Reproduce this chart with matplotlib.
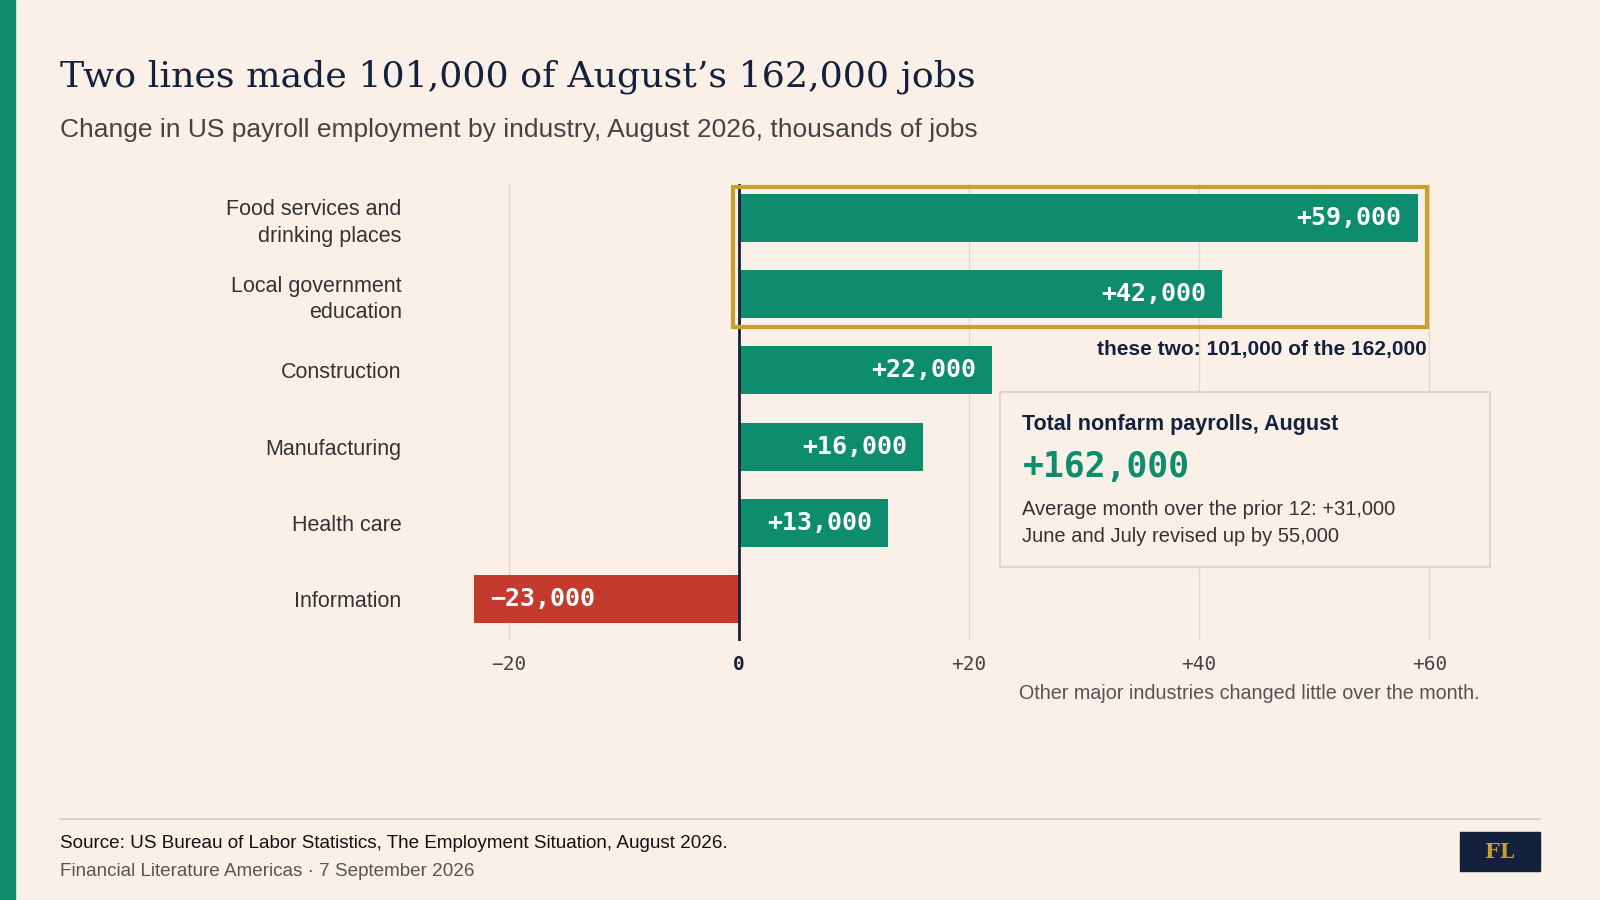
import matplotlib.pyplot as plt
from matplotlib.patches import Rectangle

industries = ["Food services and\ndrinking places", "Local government\neducation",
              "Construction", "Manufacturing", "Health care", "Information"]
changes = [59, 42, 22, 16, 13, -23]
value_labels = ["+59,000", "+42,000", "+22,000", "+16,000", "+13,000", "\u221223,000"]
ticks = [-20, 0, 20, 40, 60]
tick_labels = ["\u221220", "0", "+20", "+40", "+60"]

BG = "#FAF0E8"
GREEN = "#0E8C6E"
RED = "#C43B2E"
GOLD = "#C9A02B"
NAVY = "#14213D"
W, H = 1568, 882

fig = plt.figure(figsize=(16, 9), dpi=100, facecolor=BG)
fig.patches.append(Rectangle((0, 0), 15 / W, 1, transform=fig.transFigure, color=GREEN))

def fx(px): return px / W
def fy(py): return 1 - py / H

fig.text(fx(59), fy(75), "Two lines made 101,000 of August\u2019s 162,000 jobs",
         family="DejaVu Serif", fontsize=26.2, color=NAVY, va="center")
fig.text(fx(59), fy(127), "Change in US payroll employment by industry, August 2026, thousands of jobs",
         family="Liberation Sans", fontsize=19, color="#444444", va="center")

ax = fig.add_axes([fx(459), fy(628), fx(1412 - 459), fy(180) - fy(628)])
ax.set_facecolor(BG)
y = list(range(len(industries)))
colors = [GREEN if v > 0 else RED for v in changes]
ax.barh(y, changes, height=0.63, color=colors, zorder=2)
ax.set_ylim(len(industries) - 0.45, -0.45)
ax.set_xlim(-23.5, 61)
for i, (v, lab) in enumerate(zip(changes, value_labels)):
    if v > 0:
        ax.text(v - 1.4, i, lab, ha="right", va="center", color="white",
                family="DejaVu Sans Mono", fontweight="bold", fontsize=18, zorder=3)
    else:
        ax.text(v + 1.4, i, lab, ha="left", va="center", color="white",
                family="DejaVu Sans Mono", fontweight="bold", fontsize=18, zorder=3)
ax.set_yticks(y)
ax.set_yticklabels(industries, family="Liberation Sans", fontsize=15.5, color="#333333")
ax.set_xticks(ticks)
ax.set_xticklabels(tick_labels, family="DejaVu Sans Mono", fontsize=14, color="#444444")
ax.get_xticklabels()[1].set_fontweight("bold")
ax.get_xticklabels()[1].set_color(NAVY)
ax.tick_params(length=0, pad=10)
ax.tick_params(axis="y", pad=48)
for lab in ax.get_yticklabels():
    lab.set_linespacing(1.35)
ax.grid(axis="x", color="#E2D8CE", lw=1, zorder=0)
for s in ax.spines.values():
    s.set_visible(False)
ax.axvline(0, color=NAVY, lw=2, zorder=4)

ax.add_patch(Rectangle((-0.5, -0.41), 60.3, 1.84, fill=False, ec=GOLD, lw=3,
                       zorder=5, clip_on=False))
ax.text(59.8, 1.72, "these two: 101,000 of the 162,000", ha="right", va="center",
        family="Liberation Sans", fontweight="bold", fontsize=15, color=NAVY)

fig.patches.append(Rectangle((fx(980), fy(556)), fx(480), fy(384) - fy(556),
                             transform=fig.transFigure, fc=BG, ec="#E0D6CC", lw=1.5, zorder=6))
fig.text(fx(1002), fy(416), "Total nonfarm payrolls, August", family="Liberation Sans",
         fontweight="bold", fontsize=15.5, color=NAVY, va="center", zorder=7)
fig.text(fx(1002), fy(458), "+162,000", family="DejaVu Sans Mono", fontweight="bold",
         fontsize=25, color=GREEN, va="center", zorder=7)
fig.text(fx(1002), fy(499), "Average month over the prior 12: +31,000", family="Liberation Sans",
         fontsize=14.5, color="#333333", va="center", zorder=7)
fig.text(fx(1002), fy(526), "June and July revised up by 55,000", family="Liberation Sans",
         fontsize=14.5, color="#333333", va="center", zorder=7)

fig.text(fx(1450), fy(680), "Other major industries changed little over the month.",
         family="Liberation Sans", fontsize=14.2, color="#555555", ha="right", va="center")

fig.add_artist(plt.Line2D([fx(59), fx(1509)], [fy(803), fy(803)], color="#D5CBC1", lw=1.2))
fig.text(fx(59), fy(827), "Source: US Bureau of Labor Statistics, The Employment Situation, August 2026.",
         family="Liberation Sans", fontsize=13.6, color="#111111", va="center")
fig.text(fx(59), fy(854), "Financial Literature Americas \u00b7 7 September 2026",
         family="Liberation Sans", fontsize=13.6, color="#555555", va="center")
fig.patches.append(Rectangle((fx(1431), fy(854)), fx(78), fy(815) - fy(854),
                             transform=fig.transFigure, color=NAVY))
fig.text(fx(1470), fy(835), "FL", family="DejaVu Serif", fontweight="bold", fontsize=15,
         color=GOLD, ha="center", va="center")

fig.savefig("out.png", dpi=100, facecolor=BG)
